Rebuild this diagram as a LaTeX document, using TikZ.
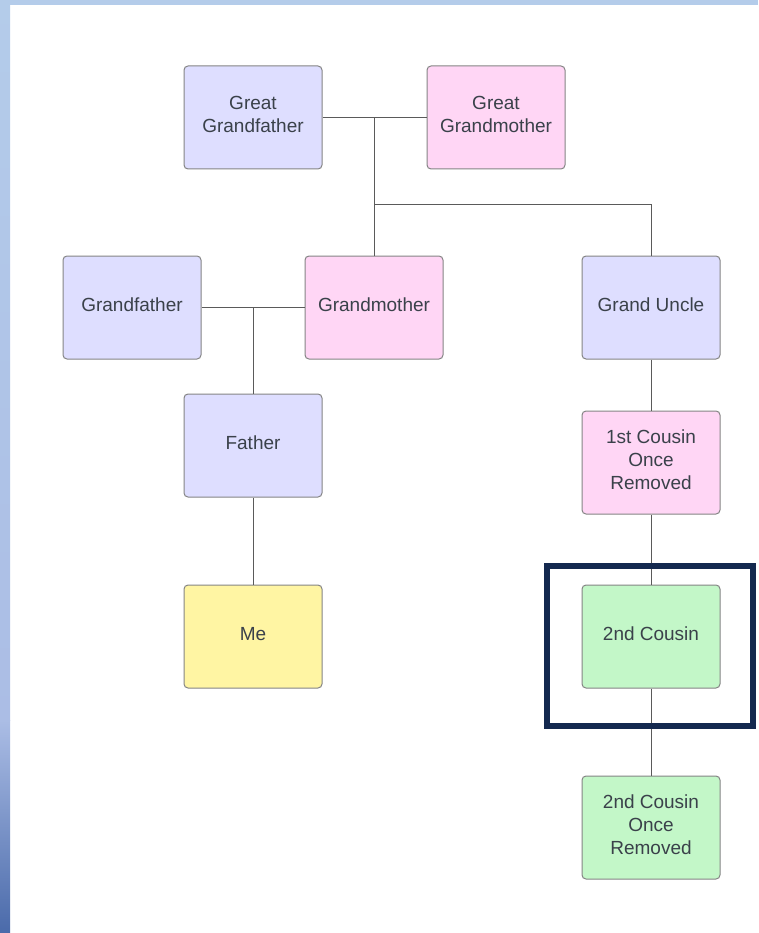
\documentclass[tikz,border=0pt]{standalone}
\usepackage{fontspec}
\setmainfont{Liberation Sans}
\newcommand\lbl[1]{\raisebox{-1.75pt}[0pt][0pt]{\parbox{136pt}{\centering #1}}}
\begin{document}
\begin{tikzpicture}[x=1pt,y=-1pt,
  person/.style={draw=boxborder, line width=1pt, rounded corners=4pt, minimum width=138pt, minimum height=103pt, text=txt, font=\fontsize{19}{23}\selectfont, inner sep=0pt},
  blue/.style={person, fill=bluefill},
  pink/.style={person, fill=pinkfill},
  green/.style={person, fill=greenfill},
  yellow/.style={person, fill=yellowfill},
  link/.style={draw=linecol, line width=1pt}]
\definecolor{bluefill}{HTML}{DEDEFF}
\definecolor{pinkfill}{HTML}{FFD6F5}
\definecolor{greenfill}{HTML}{C3F7C8}
\definecolor{yellowfill}{HTML}{FFF5A3}
\definecolor{boxborder}{HTML}{858585}
\definecolor{txt}{HTML}{3A414A}
\definecolor{linecol}{HTML}{5A5A5A}
\definecolor{navy}{HTML}{14294F}
\definecolor{stripA}{HTML}{B4CCEA}
\definecolor{stripB}{HTML}{ABBDE5}
\definecolor{stripC}{HTML}{4A6AAA}
\useasboundingbox (0,0) rectangle (758,933);
\fill[white] (0,0) rectangle (758,933);
\fill[stripA] (0,0) rectangle (758,5);
\shade[top color=stripA, bottom color=stripB] (0,0) rectangle (10,720);
\shade[top color=stripB, bottom color=stripC] (0,720) rectangle (10,933);

\node[blue]   (ggf) at (253,117.5) {\lbl{Great\\Grandfather}};
\node[pink]   (ggm) at (496,117.5) {\lbl{Great\\Grandmother}};
\node[blue]   (gf)  at (132,307.5) {\lbl{Grandfather}};
\node[pink]   (gm)  at (374,307.5) {\lbl{Grandmother}};
\node[blue]   (gu)  at (651,307.5) {\lbl{Grand Uncle}};
\node[blue]   (fa)  at (253,445.5) {\lbl{Father}};
\node[pink]   (c1)  at (651,462.5) {\lbl{1st Cousin\\Once\\Removed}};
\node[yellow] (me)  at (253,636.5) {\lbl{Me}};
\node[green]  (c2)  at (651,636.5) {\lbl{2nd Cousin}};
\node[green]  (c2r) at (651,827.5) {\lbl{2nd Cousin\\Once\\Removed}};

\coordinate (j1) at (374,118);
\coordinate (b1) at (374,205);
\coordinate (b2) at (651,205);
\coordinate (j2) at (253,308);

\draw[link] (ggf.east) -- (ggm.west);
\draw[link] (j1) -- (gm.north);
\draw[link] (b1) -- (b2) -- (gu.north);
\draw[link] (gf.east) -- (gm.west);
\draw[link] (j2) -- (fa.north);
\draw[link] (fa.south) -- (me.north);
\draw[link] (gu.south) -- (c1.north);
\draw[link] (c1.south) -- (c2.north);
\draw[link] (c2.south) -- (c2r.north);

\node[draw=navy, line width=6pt, minimum width=206pt, minimum height=160pt, inner sep=0pt] (hl) at (649.5,645.5) {};
\end{tikzpicture}
\end{document}
